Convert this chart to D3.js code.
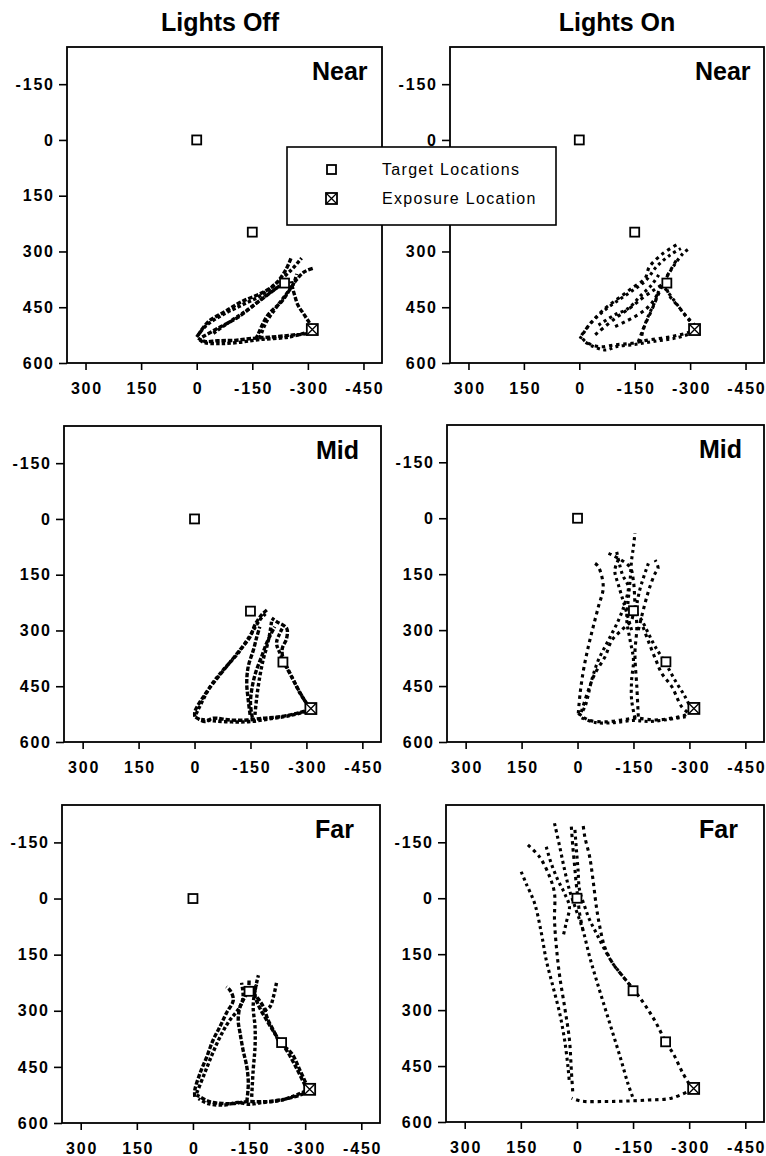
<!DOCTYPE html>
<html><head><meta charset="utf-8">
<script src="https://cdn.jsdelivr.net/npm/d3@7"></script>
<style>body{margin:0;background:#fff}svg{display:block}</style>
</head><body>
<svg id="chart" width="766" height="1156"></svg>
<script>
// ---------------- data ----------------
const xTicks = [300, 150, 0, -150, -300, -450];
const yTicks = [-150, 0, 150, 300, 450, 600];
const xDomain = [350, -500];
const yDomain = [-250, 600];
const columnTitles = ["Lights Off", "Lights On"];
const rowLabels = ["Near", "Mid", "Far"];
const legendLabels = ["Target Locations", "Exposure Location"];
const targetLocations = [[0, 0], [-150, 248], [-237, 385]];
const exposureLocation = [-312, 510];

// trajectories (each a list of [x, y] positions)
const nearOff = [
  [[-314,512],[-300,520],[-256,525],[-202,530],[-148,534],[-103,539],[-57,540],[-22,542],[-4,533]],
  [[-305,515],[-250,530],[-170,537],[-110,545],[-60,548],[-20,545],[-5,535]],
  [[-4,525],[-31,489],[-76,462],[-121,435],[-175,412],[-210,390],[-240,350],[-256,314]],
  [[0,530],[-25,500],[-70,470],[-120,445],[-170,420],[-215,385],[-255,350],[-283,318]],
  [[-15,530],[-60,505],[-110,478],[-160,440],[-200,410],[-230,388]],
  [[-45,520],[-95,485],[-140,455],[-185,420],[-220,395]],
  [[-160,536],[-165,524],[-192,471],[-229,435],[-251,403],[-270,375],[-290,355],[-314,345]],
  [[-170,534],[-185,495],[-215,450],[-245,410],[-262,385],[-270,360]],
  [[-314,506],[-305,493],[-290,470],[-273,444],[-264,417],[-258,395],[-255,380]]
];
const nearOn = [
  [[-318,508],[-304,515],[-250,529],[-188,538],[-142,547],[-97,551],[-52,556],[-16,542],[-6,529]],
  [[-310,518],[-260,533],[-200,542],[-150,550],[-100,556],[-70,565],[-30,552],[-10,540]],
  [[-6,525],[-34,489],[-70,453],[-106,426],[-142,399],[-178,372],[-190,341],[-227,305],[-263,282]],
  [[-2,535],[-25,500],[-60,465],[-100,435],[-140,408],[-180,378],[-210,340],[-245,310],[-275,292]],
  [[-43,524],[-97,480],[-140,450],[-170,426],[-200,405],[-223,390]],
  [[-52,498],[-97,470],[-133,453],[-165,420],[-196,390],[-215,363]],
  [[-97,502],[-124,489],[-151,475],[-178,457],[-196,439],[-215,410]],
  [[-160,542],[-170,516],[-188,471],[-205,435],[-218,399],[-227,385],[-254,341],[-281,305],[-299,291]],
  [[-165,545],[-175,505],[-195,460],[-212,420],[-230,380],[-250,345],[-265,320]],
  [[-232,399],[-259,435],[-286,471],[-309,498],[-318,506]],
  [[-315,500],[-295,480],[-270,450],[-245,420],[-235,395]]
];
const midOff = [
  [[-310,509],[-303,514],[-274,523],[-229,532],[-184,536],[-140,541],[-95,541],[-50,536],[-28,545],[-1,532]],
  [[-300,518],[-250,530],[-200,538],[-150,545],[-100,546],[-50,543],[-10,538]],
  [[-1,532],[-1,518],[-24,478],[-50,442],[-86,397],[-122,352],[-149,317],[-162,285],[-180,258],[-194,245]],
  [[-4,525],[-42,451],[-77,406],[-117,361],[-153,307],[-175,272],[-190,255]],
  [[-149,527],[-144,487],[-140,442],[-144,397],[-158,352],[-167,317],[-175,290]],
  [[-162,527],[-167,478],[-175,424],[-184,379],[-194,343],[-202,307],[-207,272]],
  [[-155,535],[-150,495],[-155,450],[-165,410],[-180,370],[-195,330],[-215,290]],
  [[-310,509],[-283,469],[-265,433],[-247,397],[-229,361],[-220,334],[-229,307],[-238,290]],
  [[-305,505],[-280,462],[-258,420],[-240,385],[-235,350],[-247,321],[-247,294],[-220,276],[-207,267]]
];
const midOn = [
  [[-306,514],[-288,528],[-253,536],[-208,541],[-154,536],[-118,541],[-74,546],[-29,541],[-2,523]],
  [[-290,532],[-240,540],[-190,545],[-150,542],[-100,548],[-50,548],[-10,535]],
  [[-2,523],[-7,469],[-16,407],[-29,344],[-42,291],[-56,237],[-69,184],[-56,130],[-47,121]],
  [[-5,530],[-20,505],[-38,434],[-56,380],[-83,327],[-110,273],[-127,228],[-136,184],[-120,150],[-105,90]],
  [[-10,520],[-29,461],[-47,416],[-74,371],[-92,327],[-118,300],[-145,273],[-150,240]],
  [[-154,536],[-145,487],[-145,434],[-150,380],[-141,327],[-132,273],[-136,219],[-141,166],[-145,112],[-150,76],[-154,40]],
  [[-163,532],[-159,452],[-154,362],[-159,291],[-154,228],[-150,170],[-140,130],[-83,94]],
  [[-145,300],[-125,230],[-110,180],[-100,140],[-110,110]],
  [[-163,300],[-181,228],[-194,184],[-208,148],[-216,134],[-208,112]],
  [[-306,514],[-288,478],[-261,434],[-235,387],[-208,344],[-190,309],[-172,273],[-159,255],[-165,200],[-190,121]],
  [[-295,520],[-279,505],[-253,452],[-226,416],[-210,380],[-190,330],[-175,290]]
];
const farOff = [
  [[-308,507],[-295,521],[-251,535],[-197,543],[-144,543],[-108,548],[-81,548],[-45,543],[-10,525]],
  [[-300,515],[-240,538],[-180,546],[-150,550],[-120,545],[-85,552],[-40,548],[-15,535]],
  [[-5,530],[-5,512],[-19,467],[-37,423],[-54,378],[-72,343],[-89,307],[-108,271],[-99,245],[-89,236]],
  [[-10,520],[-30,470],[-50,420],[-70,375],[-95,330],[-126,289],[-134,263],[-130,225]],
  [[-144,543],[-148,494],[-144,450],[-134,405],[-126,360],[-121,325],[-126,289],[-139,263],[-148,245],[-150,215]],
  [[-157,530],[-161,459],[-166,396],[-166,343],[-161,289],[-166,245],[-175,205]],
  [[-308,507],[-286,459],[-264,414],[-231,383],[-215,352],[-201,325],[-188,289],[-170,263],[-155,250]],
  [[-190,300],[-206,289],[-215,263],[-224,222]],
  [[-300,500],[-275,450],[-250,405],[-225,370],[-200,330],[-175,285],[-165,255],[-170,230]]
];
const farOn = [
  [[-309,512],[-253,536],[-191,541],[-128,544],[-75,545],[-12,544],[14,536]],
  [[149,-71],[136,-40],[113,14],[95,94],[82,166],[64,237],[46,309],[33,380],[24,452],[20,496]],
  [[131,-143],[100,-111],[73,-58],[60,-13],[60,58],[55,130],[46,210],[33,291],[20,380],[15,461],[11,523]],
  [[60,-201],[46,-138],[33,-76],[20,-22],[2,32],[-16,85],[-34,157],[-52,219],[-74,291],[-96,362],[-118,434],[-136,496],[-150,536]],
  [[15,-192],[11,-138],[6,-84],[2,-40],[-3,5],[-7,40],[-16,85]],
  [[82,-138],[69,-94],[51,-49],[33,-13],[20,23],[29,67],[37,103]],
  [[-310,514],[-283,469],[-257,416],[-239,389],[-212,335],[-185,291],[-154,248],[-123,210],[-96,175],[-74,130],[-61,76],[-52,23],[-43,-49],[-34,-111],[-21,-165],[-16,-201]],
  [[-154,248],[-123,210],[-96,175],[-70,130],[-52,94],[-34,58],[-21,23],[-7,-22],[-3,-76],[2,-138],[6,-192]]
];
const panelData = [[nearOff, nearOn], [midOff, midOn], [farOff, farOn]];

// ---------------- layout ----------------
const frames = [
  [{l:67,r:382,t:47,b:363},{l:450,r:764,t:47,b:363}],
  [{l:64,r:381,t:426,b:742},{l:447,r:764,t:425,b:742}],
  [{l:62,r:380,t:805,b:1123},{l:446,r:764,t:805,b:1122}]
];
const labelOffset = [245, 252, 253];
// legend box (covers part of the top-right panel's axis)
const legendBox = {x:287, y:147, w:269, h:78};
const font = "'Liberation Sans', Arial, Helvetica, sans-serif";
const svg = d3.select("#chart");
svg.append("rect").attr("width",766).attr("height",1156).attr("fill","#fff");

const titleX = [220, 617];
columnTitles.forEach((t,i)=>{
  svg.append("text").attr("x",titleX[i]).attr("y",31).attr("text-anchor","middle")
    .attr("font-family",font).attr("font-weight","bold").attr("font-size",25).text(t);
});

const ls = 1.8;
const fmt = d => d3.format("d")(d).replace("\u2212","-");
rowLabels.forEach((lab, ri) => {
  [0,1].forEach(ci => {
    const f = frames[ri][ci];
    const x = d3.scaleLinear().domain(xDomain).range([f.l, f.r]);
    const y = d3.scaleLinear().domain(yDomain).range([f.t, f.b]);
    const g = svg.append("g");

    // axes
    const ax = g.append("g").attr("transform",`translate(0,${f.b})`)
      .call(d3.axisBottom(x).tickValues(xTicks).tickSize(7).tickSizeOuter(0).tickPadding(10).tickFormat(fmt));
    const ay = g.append("g").attr("transform",`translate(${f.l},0)`)
      .call(d3.axisLeft(y).tickValues(yTicks).tickSize(8).tickSizeOuter(0).tickPadding(6).tickFormat(fmt));
    [ax, ay].forEach(a => {
      a.select(".domain").remove();
      a.selectAll("line").attr("stroke","#000").attr("stroke-width",1.6);
      a.selectAll("text").attr("font-family",font).attr("font-weight","bold")
        .attr("font-size",16).attr("fill","#000").style("letter-spacing", ls + "px");
    });
    ax.selectAll("text").attr("dx", ls/2).attr("dy","0.9em");
    ay.selectAll("text").attr("dx", ls);
    // tick labels hidden behind the legend box are not drawn
    ay.selectAll(".tick").filter(d => {
      const ty = y(d), tx = f.l - 20;
      return tx > legendBox.x && tx < legendBox.x + legendBox.w && ty > legendBox.y && ty < legendBox.y + legendBox.h;
    }).remove();

    // frame
    g.append("rect").attr("x",f.l).attr("y",f.t).attr("width",f.r-f.l).attr("height",f.b-f.t)
      .attr("fill","none").attr("stroke","#000").attr("stroke-width",1.8);

    // row label
    g.append("text").attr("x",f.l+labelOffset[ri]).attr("y",f.t+33)
      .attr("font-family",font).attr("font-weight","bold").attr("font-size",25).text(lab);

    // trajectories
    const line = d3.line().x(d=>x(d[0])).y(d=>y(d[1])).curve(d3.curveCatmullRom.alpha(0.5));
    g.append("g").selectAll("path").data(panelData[ri][ci]).join("path")
      .attr("d", line).attr("fill","none").attr("stroke","#000")
      .attr("stroke-width", ci===0 ? 3.4 : 3.1)
      .attr("stroke-dasharray", (d,i) => ci===0 ? (i%2 ? "3.5,2.2" : "4.5,1.8") : (i%2 ? "3,3.4" : "3.4,3.8"));

    // targets
    const s = 9;
    g.append("g").selectAll("rect").data(targetLocations).join("rect")
      .attr("x", d=>x(d[0])-s/2).attr("y", d=>y(d[1])-s/2).attr("width",s).attr("height",s)
      .attr("fill","#fff").attr("stroke","#000").attr("stroke-width",1.8);
    const ex = g.append("g").datum(exposureLocation);
    ex.append("rect").attr("x", d=>x(d[0])-5.5).attr("y", d=>y(d[1])-5.5).attr("width",11).attr("height",11)
      .attr("fill","#fff").attr("stroke","#000").attr("stroke-width",1.8);
    ex.append("path").attr("d", d => {
        const cx = x(d[0]), cy = y(d[1]), h = 5.5;
        return `M${cx-h},${cy-h}L${cx+h},${cy+h}M${cx+h},${cy-h}L${cx-h},${cy+h}`;
      }).attr("stroke","#000").attr("stroke-width",1.3);
  });
});

// legend
const lg = svg.append("g");
lg.append("rect").attr("x",legendBox.x).attr("y",legendBox.y).attr("width",legendBox.w).attr("height",legendBox.h)
  .attr("fill","#fff").attr("stroke","#000").attr("stroke-width",1.6);
lg.append("rect").attr("x",327).attr("y",165).attr("width",9).attr("height",9)
  .attr("fill","#fff").attr("stroke","#000").attr("stroke-width",1.8);
lg.append("rect").attr("x",326).attr("y",193).attr("width",11).attr("height",11)
  .attr("fill","#fff").attr("stroke","#000").attr("stroke-width",1.8);
lg.append("path").attr("d","M326,193L337,204M337,193L326,204").attr("stroke","#000").attr("stroke-width",1.3);
legendLabels.forEach((t,i)=>{
  lg.append("text").attr("x",382).attr("y",175+i*29).attr("font-family",font)
    .attr("font-size",16).style("letter-spacing","1.3px").text(t);
});
</script>
</body></html>
